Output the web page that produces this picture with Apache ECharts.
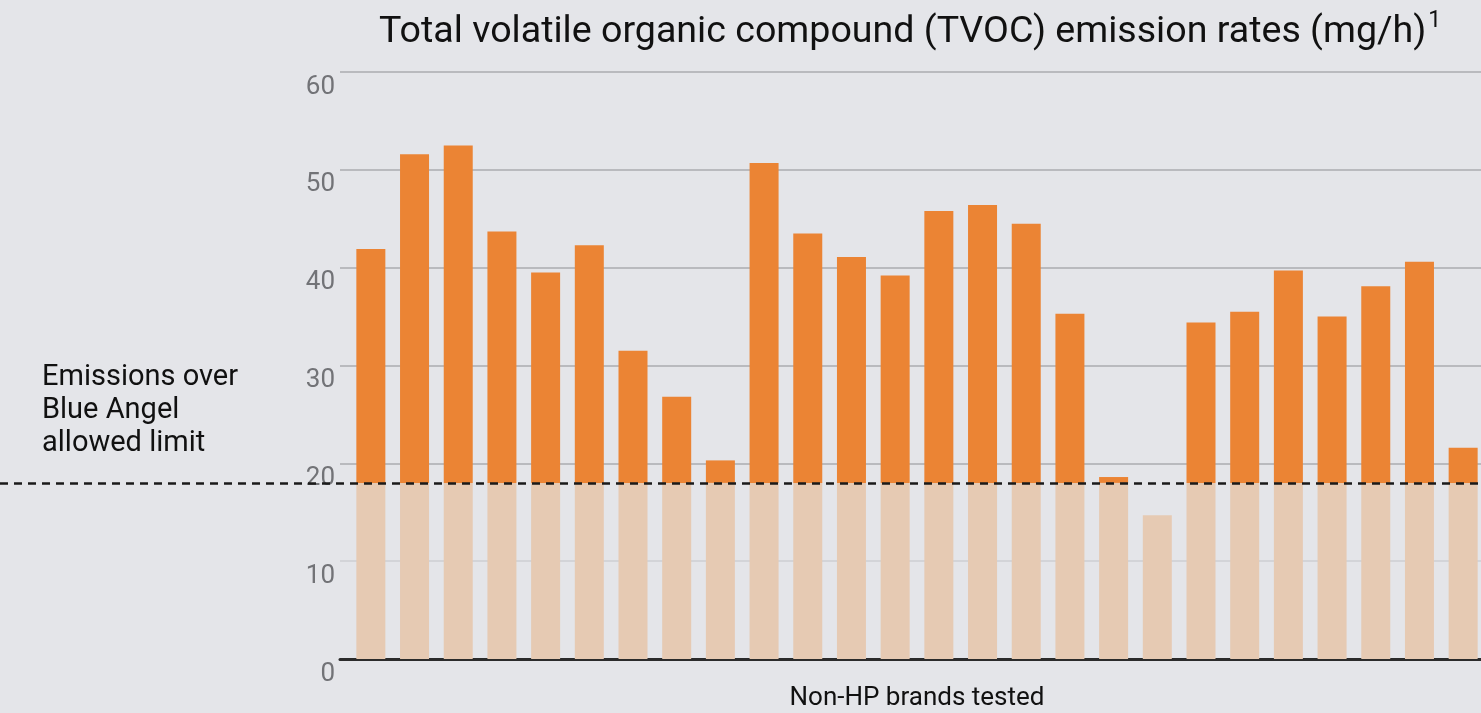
<!DOCTYPE html>
<html>
<head>
<meta charset="utf-8">
<script src="https://cdn.jsdelivr.net/npm/echarts@6/dist/echarts.min.js"></script>
<style>
  html, body { margin: 0; padding: 0; background: #e4e5e9; }
  #chart { width: 1481px; height: 713px; }
</style>
</head>
<body>
<div id="chart"></div>
<script>
const brands = Array.from({ length: 26 }, (_, i) => 'Brand ' + (i + 1));
const tvoc = [41.9, 51.6, 52.5, 43.7, 39.5, 42.3, 31.5, 26.8, 20.3, 50.7, 43.5, 41.1, 39.2,
  45.8, 46.4, 44.5, 35.3, 18.6, 14.7, 34.4, 35.5, 39.7, 35.0, 38.1, 40.6, 21.6];
const blueAngelLimit = 18;
const yTicks = [0, 10, 20, 30, 40, 50, 60];

const font = 'Roboto';
const chart = echarts.init(document.getElementById('chart'));

// split each bar at the Blue Angel limit
const underData = tvoc.map((v) => Math.min(v, blueAngelLimit));
const overData = tvoc.map((v) => Math.max(v - blueAngelLimit, 0));

const gridBox = { top: 72, bottom: 54, outerBoundsMode: 'none', containLabel: false };

chart.setOption({
  backgroundColor: '#e4e5e9',
  animation: false,
  title: [
    {
      left: 374,
      top: 5,
      text: '{a|Total volatile organic compound (TVOC) emission rates (mg/h)}{s|1}',
      textStyle: {
        rich: {
          a: { fontFamily: font, fontSize: 37.6, fontWeight: 'normal', color: '#111', lineHeight: 46 },
          s: { fontFamily: font, fontSize: 23, fontWeight: 'normal', color: '#111', verticalAlign: 'top', lineHeight: 46, padding: [0, 0, 18, 2] },
        },
      },
    },
    {
      left: 37,
      top: 356,
      text: 'Emissions over\nBlue Angel\nallowed limit',
      textStyle: { fontFamily: font, fontSize: 29, fontWeight: 'normal', color: '#111', lineHeight: 33 },
    },
  ],
  grid: [
    { ...gridBox, left: 340, right: 0 },  // axes + gridlines
    { ...gridBox, left: 0, right: 0 },    // limit line across the page
    { ...gridBox, left: 349, right: -4 }, // bars
  ],
  xAxis: [
    {
      type: 'value',
      gridIndex: 0,
      min: 0,
      max: 1,
      axisLabel: { show: false },
      axisTick: { show: false },
      splitLine: { show: false },
      axisLine: { show: true, lineStyle: { color: '#2b2b2b', width: 3 } },
      name: 'Non-HP brands tested',
      nameLocation: 'middle',
      nameGap: 26,
      nameTextStyle: { fontFamily: font, fontSize: 26, color: '#111', verticalAlign: 'top', padding: [0, 0, 0, 13] },
    },
    { type: 'value', gridIndex: 1, min: 0, max: 1, show: false },
    { type: 'category', gridIndex: 2, data: brands, show: false },
  ],
  yAxis: [
    {
      type: 'value',
      gridIndex: 0,
      min: yTicks[0],
      max: yTicks[yTicks.length - 1],
      interval: 10,
      axisLine: { show: false },
      axisTick: { show: false },
      axisLabel: {
        fontFamily: font,
        fontSize: 26,
        color: '#727377',
        margin: 5,
        verticalAlign: 'top',
        padding: [2, 0, 0, 0],
      },
      splitLine: {
        show: true,
        lineStyle: {
          color: ['#2b2b2b', '#d3d4d8', '#b9babe', '#b9babe', '#b9babe', '#b9babe', '#b9babe'],
          width: 2,
        },
      },
    },
    { type: 'value', gridIndex: 1, min: 0, max: 60, show: false },
    { type: 'value', gridIndex: 2, min: 0, max: 60, show: false },
  ],
  series: [
    {
      name: 'Under limit',
      type: 'bar',
      stack: 'tvoc',
      xAxisIndex: 2,
      yAxisIndex: 2,
      barWidth: 29,
      itemStyle: { color: '#e6cab3' },
      data: underData,
    },
    {
      name: 'Over limit',
      type: 'bar',
      stack: 'tvoc',
      xAxisIndex: 2,
      yAxisIndex: 2,
      barWidth: 29,
      itemStyle: { color: '#eb8434' },
      data: overData,
    },
    {
      name: 'Blue Angel limit',
      type: 'line',
      xAxisIndex: 1,
      yAxisIndex: 1,
      data: [],
      silent: true,
      markLine: {
        silent: true,
        symbol: 'none',
        label: { show: false },
        lineStyle: { color: '#1a1a1a', width: 2.5, type: [8, 6] },
        data: [{ yAxis: blueAngelLimit }],
      },
      z: 5,
    },
  ],
});
</script>
</body>
</html>
